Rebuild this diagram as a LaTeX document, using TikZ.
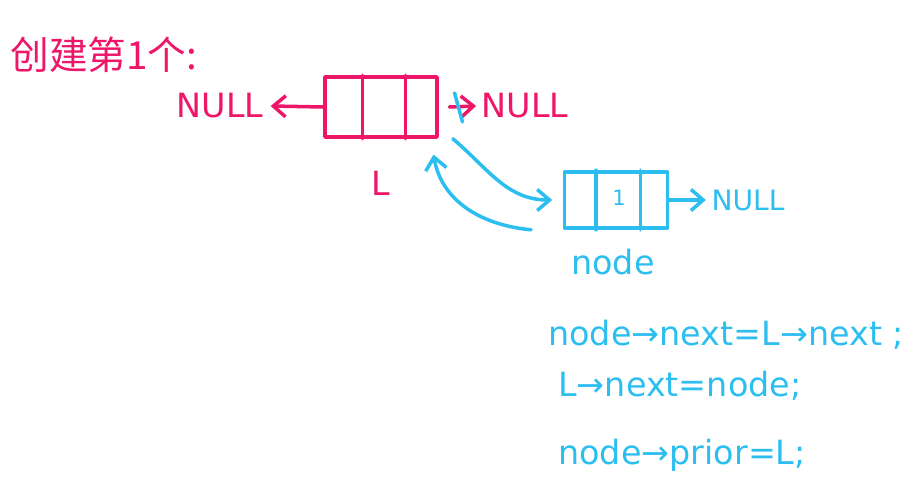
\documentclass[tikz,border=0pt]{standalone}
\usepackage{fontspec}
\setmainfont{DejaVu Sans}
\newfontfamily\cjkfont{Noto Sans CJK SC}
\usetikzlibrary{arrows.meta,positioning,calc}
\definecolor{InkRed}{RGB}{238,22,104}
\definecolor{InkCyan}{RGB}{45,190,240}

\begin{document}
\begin{tikzpicture}[x=0.02cm,y=-0.02cm,
    line cap=round, line join=round,
    rbox/.style={draw=InkRed,line width=2pt,minimum width=2.24cm,minimum height=1.2cm,inner sep=0pt},
    cbox/.style={draw=InkCyan,line width=2pt,minimum width=2.06cm,minimum height=1.12cm,inner sep=0pt},
    rline/.style={InkRed,line width=2pt},
    cline/.style={InkCyan,line width=2pt},
    rtext/.style={text=InkRed,font=\fontsize{19}{21}\selectfont,inner sep=0pt},
    ctext/.style={text=InkCyan,font=\fontsize{19}{21}\selectfont,inner sep=0pt},
    rarr/.style={-{Straight Barb[length=7pt,width=12pt]},rline},
    carr/.style={-{Straight Barb[length=7pt,width=12pt]},cline}
  ]
  \useasboundingbox (0,0) rectangle (922,500);

  \node[rtext,anchor=west,font=\cjkfont\fontsize{22}{24}\selectfont] (title) at (10,55) {创建第1个:};

  % head node L
  \node[rbox] (lbox) at (381,107) {};
  \draw[rline] ($(lbox.north west)!0.34!(lbox.north east)$) -- ($(lbox.south west)!0.34!(lbox.south east)$);
  \draw[rline] ($(lbox.north west)!0.71!(lbox.north east)$) -- ($(lbox.south west)!0.71!(lbox.south east)$);
  \node[rtext] (lname) at (381,183) {L};
  \node[rtext] (lnullL) at (220,106) {NULL};
  \node[rtext] (lnullR) at (525,106) {NULL};
  \draw[rarr] (lbox.west) -- ([xshift=4pt]lnullL.east);
  \draw[rarr] ([xshift=6pt]lbox.east) -- ([xshift=-3pt]lnullR.west);

  % new node
  \node[cbox] (nbox) at (616,200) {};
  \draw[cline] ($(nbox.north west)!0.31!(nbox.north east)$) -- ($(nbox.south west)!0.31!(nbox.south east)$);
  \draw[cline] ($(nbox.north west)!0.73!(nbox.north east)$) -- ($(nbox.south west)!0.73!(nbox.south east)$);
  \node[ctext,font=\fontsize{12}{14}\selectfont] (ndata) at (619,198) {1};
  \node[ctext] (nname) at (613,262) {node};
  \node[ctext,font=\fontsize{16}{18}\selectfont] (nnull) at (748,200) {NULL};
  \draw[carr] (nbox.east) -- ([xshift=-3pt]nnull.west);

  % links between L and node
  \draw[cline] ([shift={(9pt,8pt)}]lbox.east) -- ([shift={(13.5pt,-8.5pt)}]lbox.east);
  \draw[carr] ([shift={(8pt,0pt)}]lbox.south east) to[out=-40,in=180] ([xshift=-6pt]nbox.west);
  \draw[carr] ([xshift=-18pt]nbox.south west) to[out=175,in=-80] ([shift={(-3pt,-9pt)}]lbox.south east);

  % code
  \node[ctext,anchor=west] (code1) at (548,335) {node→next=L→next ;};
  \node[ctext,anchor=west] (code2) at (558,386) {L→next=node;};
  \node[ctext,anchor=west] (code3) at (558,455) {node→prior=L;};
\end{tikzpicture}
\end{document}
